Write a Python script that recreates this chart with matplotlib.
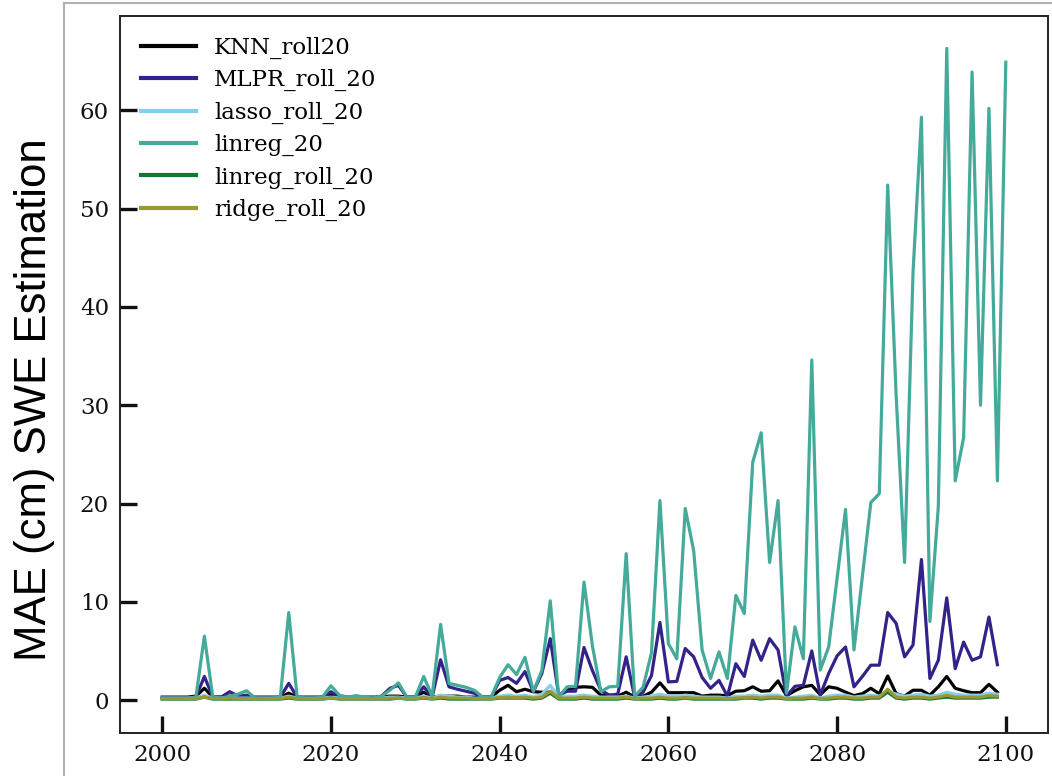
import matplotlib
matplotlib.use("Agg")
import matplotlib.pyplot as plt
from matplotlib.lines import Line2D
import numpy as np

years = list(range(2000, 2100))
years_lin = list(range(2000, 2101))

knn_roll20 = [0.3, 0.3, 0.3, 0.3, 0.4, 1.2, 0.3, 0.3, 0.4, 0.3,
              0.4, 0.3, 0.3, 0.3, 0.3, 0.7, 0.3, 0.3, 0.3, 0.3,
              0.5, 0.3, 0.3, 0.3, 0.3, 0.3, 0.3, 0.4, 0.4, 0.3,
              0.3, 0.8, 0.3, 0.4, 0.4, 0.4, 0.3, 0.3, 0.3, 0.3,
              1.0, 1.5, 0.85, 1.1, 0.85, 0.8, 0.8, 0.5, 1.0, 1.3,
              1.35, 1.3, 0.5, 0.5, 0.4, 0.8, 0.3, 0.4, 0.8, 1.75,
              0.75, 0.75, 0.75, 0.75, 0.4, 0.5, 0.5, 0.45, 0.9, 0.95,
              1.35, 0.9, 0.95, 1.95, 0.45, 0.95, 1.35, 1.5, 0.55, 1.35,
              1.2, 0.8, 0.45, 0.65, 1.2, 0.65, 2.45, 0.65, 0.4, 1.0,
              1.0, 0.5, 1.35, 2.4, 1.2, 0.95, 0.75, 0.75, 1.6, 0.8]

mlpr_roll_20 = [0.2, 0.2, 0.2, 0.2, 0.3, 2.4, 0.3, 0.3, 0.85, 0.4,
                0.5, 0.2, 0.2, 0.2, 0.3, 1.7, 0.3, 0.2, 0.2, 0.3,
                0.85, 0.3, 0.2, 0.3, 0.2, 0.2, 0.4, 1.2, 1.5, 0.3,
                0.3, 1.35, 0.3, 4.1, 1.35, 1.1, 0.9, 0.7, 0.3, 0.3,
                2.0, 2.3, 1.7, 2.9, 0.85, 2.7, 6.25, 0.5, 0.9, 0.9,
                5.35, 3.0, 1.0, 0.5, 0.6, 4.4, 0.3, 0.8, 2.5, 7.9,
                1.85, 1.9, 5.25, 4.4, 2.3, 1.2, 2.0, 0.4, 3.7, 2.4,
                6.1, 4.05, 6.25, 5.1, 0.4, 1.4, 1.5, 5.0, 0.5, 2.7,
                4.5, 5.4, 1.35, 2.4, 3.55, 3.55, 8.9, 7.8, 4.4, 5.6,
                14.3, 2.2, 4.05, 10.4, 3.2, 5.9, 4.05, 4.4, 8.45, 3.6]

lasso_roll_20 = [0.2, 0.2, 0.2, 0.2, 0.2, 0.5, 0.2, 0.2, 0.3, 0.2,
                 0.2, 0.2, 0.2, 0.2, 0.2, 0.4, 0.2, 0.2, 0.2, 0.2,
                 0.3, 0.2, 0.2, 0.2, 0.2, 0.2, 0.2, 0.3, 0.3, 0.2,
                 0.2, 0.4, 0.2, 0.5, 0.4, 0.3, 0.3, 0.2, 0.2, 0.2,
                 0.4, 0.5, 0.4, 0.5, 0.3, 0.6, 1.5, 0.3, 0.4, 0.4,
                 0.5, 0.4, 0.3, 0.3, 0.3, 0.4, 0.2, 0.3, 0.4, 0.6,
                 0.4, 0.4, 0.5, 0.4, 0.3, 0.3, 0.3, 0.2, 0.4, 0.4,
                 0.5, 0.4, 0.5, 0.5, 0.2, 0.3, 0.4, 0.5, 0.2, 0.4,
                 0.5, 0.5, 0.3, 0.4, 0.5, 0.4, 0.9, 0.6, 0.4, 0.5,
                 0.6, 0.4, 0.5, 0.8, 0.6, 0.5, 0.5, 0.5, 0.7, 0.6]

linreg_20 = [0.2, 0.2, 0.2, 0.2, 0.3, 6.5, 0.3, 0.2, 0.4, 0.6,
             0.95, 0.2, 0.2, 0.2, 0.3, 8.9, 0.3, 0.2, 0.2, 0.3,
             1.45, 0.5, 0.3, 0.45, 0.3, 0.2, 0.4, 1.0, 1.75, 0.3,
             0.3, 2.4, 0.4, 7.7, 1.7, 1.5, 1.3, 1.0, 0.3, 0.3,
             2.3, 3.6, 2.6, 4.35, 0.9, 3.0, 10.1, 0.35, 1.35, 1.4,
             12.0, 5.5, 0.85, 1.35, 1.4, 14.9, 0.4, 1.3, 4.8, 20.3,
             5.75, 4.2, 19.5, 15.2, 5.1, 2.2, 4.9, 2.2, 10.65, 8.8,
             24.2, 27.2, 14.0, 20.3, 0.7, 7.45, 4.2, 34.6, 3.05, 5.4,
             12.4, 19.4, 5.1, 12.6, 20.1, 21.0, 52.4, 31.0, 14.0, 43.5,
             59.3, 8.0, 19.7, 66.3, 22.3, 26.7, 63.9, 30.0, 60.2, 22.3,
             64.9]

linreg_roll_20 = [0.1, 0.1, 0.1, 0.1, 0.1, 0.3, 0.1, 0.1, 0.1, 0.1,
                  0.1, 0.1, 0.1, 0.1, 0.1, 0.2, 0.1, 0.1, 0.1, 0.1,
                  0.2, 0.1, 0.1, 0.1, 0.1, 0.1, 0.1, 0.1, 0.2, 0.1,
                  0.1, 0.2, 0.1, 0.2, 0.1, 0.1, 0.1, 0.1, 0.1, 0.1,
                  0.2, 0.2, 0.2, 0.2, 0.1, 0.2, 0.7, 0.1, 0.1, 0.1,
                  0.2, 0.1, 0.1, 0.1, 0.1, 0.2, 0.1, 0.1, 0.1, 0.2,
                  0.1, 0.1, 0.2, 0.1, 0.1, 0.1, 0.1, 0.1, 0.1, 0.2,
                  0.2, 0.1, 0.2, 0.2, 0.1, 0.1, 0.1, 0.2, 0.1, 0.1,
                  0.2, 0.2, 0.1, 0.1, 0.2, 0.2, 0.8, 0.2, 0.1, 0.2,
                  0.2, 0.1, 0.2, 0.3, 0.2, 0.2, 0.2, 0.2, 0.3, 0.3]

ridge_roll_20 = [0.15, 0.15, 0.15, 0.15, 0.15, 0.3, 0.15, 0.15, 0.2, 0.15,
                 0.15, 0.15, 0.15, 0.15, 0.15, 0.3, 0.15, 0.15, 0.15, 0.15,
                 0.2, 0.15, 0.15, 0.15, 0.15, 0.15, 0.15, 0.2, 0.2, 0.15,
                 0.15, 0.25, 0.15, 0.3, 0.2, 0.2, 0.2, 0.15, 0.15, 0.15,
                 0.25, 0.3, 0.25, 0.3, 0.2, 0.3, 0.9, 0.2, 0.2, 0.2,
                 0.3, 0.2, 0.2, 0.2, 0.2, 0.3, 0.15, 0.2, 0.2, 0.3,
                 0.2, 0.2, 0.25, 0.2, 0.2, 0.2, 0.2, 0.15, 0.2, 0.25,
                 0.3, 0.2, 0.3, 0.3, 0.15, 0.2, 0.2, 0.3, 0.15, 0.2,
                 0.3, 0.3, 0.2, 0.2, 0.3, 0.3, 1.1, 0.3, 0.2, 0.3,
                 0.3, 0.2, 0.3, 0.5, 0.3, 0.3, 0.3, 0.3, 0.45, 0.4]

series = [
    ("KNN_roll20", years, knn_roll20, "#000000"),
    ("MLPR_roll_20", years, mlpr_roll_20, "#332288"),
    ("lasso_roll_20", years, lasso_roll_20, "#88CCEE"),
    ("linreg_20", years_lin, linreg_20, "#44AA99"),
    ("linreg_roll_20", years, linreg_roll_20, "#117733"),
    ("ridge_roll_20", years, ridge_roll_20, "#999933"),
]

W, H = 1052, 776
fig = plt.figure(figsize=(W / 100, H / 100), dpi=100)
ax = fig.add_axes([120 / W, 1 - 733 / H, (1048 - 120) / W, (733 - 16) / H])

for name, x, y, c in series:
    ax.plot(x, y, color=c, lw=2.3, label=name)

ax.set_xlim(1995, 2105)
ax.set_ylim(-3.35, 69.6)
ax.set_xticks([2000, 2020, 2040, 2060, 2080, 2100])
ax.set_yticks([0, 10, 20, 30, 40, 50, 60])

ax.tick_params(direction="in", length=12, width=2.4, pad=8,
               labelsize=16.5, colors="#111111")
for lab in ax.get_xticklabels() + ax.get_yticklabels():
    lab.set_family("DejaVu Serif")
for sp in ax.spines.values():
    sp.set_linewidth(1.4)
    sp.set_color("#222222")

leg = ax.legend(loc="upper left", frameon=False,
                prop={"family": "DejaVu Serif", "size": 16.5},
                handlelength=2.4, handletextpad=0.8, labelspacing=0.45)
for h in leg.get_lines():
    h.set_linewidth(3)

# outer grey frame
fx = 64 / W
fy = 1 - 3 / H
fig.add_artist(Line2D([fx, fx], [0, fy], transform=fig.transFigure,
                      color="#b0b0b0", lw=1.5))
fig.add_artist(Line2D([fx, 1], [fy, fy], transform=fig.transFigure,
                      color="#b0b0b0", lw=1.5))

fig.text(35 / W, 1 - 400 / H, "MAE (cm) SWE Estimation", rotation=90,
         ha="center", va="center", fontsize=31.5,
         family=["Liberation Sans", "DejaVu Sans"])

fig.savefig("out.png", dpi=100)
